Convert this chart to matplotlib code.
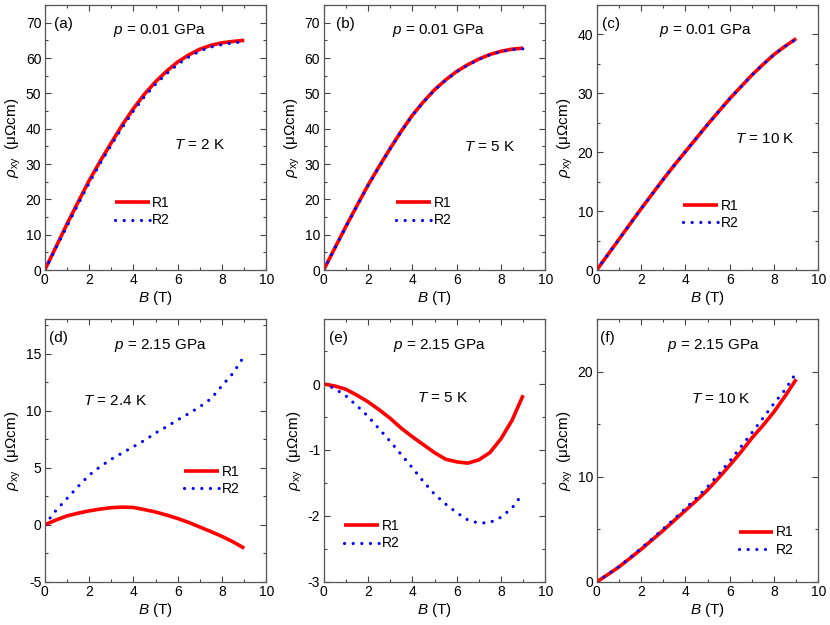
import numpy as np
import matplotlib
matplotlib.use('Agg')
import matplotlib.pyplot as plt
from matplotlib.ticker import MultipleLocator

plt.rcParams['font.family'] = ['Liberation Sans', 'DejaVu Sans']
plt.rcParams['mathtext.fontset'] = 'custom'
plt.rcParams['mathtext.rm'] = 'Liberation Sans'
plt.rcParams['mathtext.it'] = 'Liberation Sans:italic'
plt.rcParams['axes.unicode_minus'] = False
plt.rcParams['font.size'] = 11

# Field values (T)
B = [0, 0.5, 1, 1.5, 2, 2.5, 3, 3.5, 4, 4.5, 5, 5.5, 6, 6.5, 7, 7.5, 8, 8.5, 9]
B_short = [0, 0.5, 1, 1.5, 2, 2.5, 3, 3.5, 4, 4.5, 5, 5.5, 6, 6.5, 7, 7.5, 8, 8.5, 8.9]

# (a) p = 0.01 GPa, T = 2 K
a_r1 = [0, 6.5, 13, 19.2, 25.3, 30.8, 36, 41.1, 45.7, 49.8, 53.3, 56.3, 58.9, 60.9, 62.5, 63.6, 64.3, 64.7, 65.0]
a_r2 = [0, 6.2, 12.4, 18.6, 24.6, 30.2, 35.4, 40.4, 45.0, 49.1, 52.6, 55.6, 58.2, 60.3, 62.0, 63.1, 63.8, 64.3, 64.6]

# (b) p = 0.01 GPa, T = 5 K
b_r1 = [0, 6.2, 12.3, 18.2, 24, 29.3, 34.4, 39.3, 43.8, 47.6, 51, 53.8, 56.2, 58.1, 59.7, 61, 61.9, 62.5, 62.8]
b_r2 = [0, 6.1, 12.2, 18.1, 23.9, 29.2, 34.3, 39.2, 43.7, 47.5, 50.9, 53.7, 56.1, 58.0, 59.6, 60.9, 61.8, 62.4, 62.6]

# (c) p = 0.01 GPa, T = 10 K
c_r1 = [0, 2.6, 5.2, 7.8, 10.4, 12.9, 15.4, 17.8, 20.1, 22.4, 24.7, 26.9, 29.1, 31.1, 33.1, 34.9, 36.6, 38.0, 39.3]
c_r2 = [0, 2.6, 5.2, 7.8, 10.4, 12.9, 15.4, 17.8, 20.1, 22.4, 24.7, 26.9, 29.1, 31.1, 33.1, 34.9, 36.6, 38.0, 39.2]

# (d) p = 2.15 GPa, T = 2.4 K
d_r1 = [0, 0.42, 0.78, 1.02, 1.22, 1.38, 1.5, 1.55, 1.52, 1.33, 1.12, 0.85, 0.55, 0.2, -0.2, -0.6, -1.02, -1.5, -2.05]
d_r2 = [0, 1.25, 2.3, 3.35, 4.35, 5.1, 5.75, 6.3, 6.85, 7.4, 8.05, 8.6, 9.2, 9.75, 10.35, 11.05, 12.2, 13.3, 14.5]

# (e) p = 2.15 GPa, T = 5 K
e_r1 = [0, -0.03, -0.08, -0.17, -0.27, -0.39, -0.52, -0.67, -0.80, -0.92, -1.04, -1.14, -1.18, -1.20, -1.15, -1.04, -0.83, -0.55, -0.17]
e_r2 = [0, -0.07, -0.18, -0.33, -0.49, -0.68, -0.87, -1.07, -1.27, -1.48, -1.67, -1.82, -1.95, -2.06, -2.11, -2.1, -2.02, -1.88, -1.7]

# (f) p = 2.15 GPa, T = 10 K
f_r1 = [0, 0.7, 1.42, 2.25, 3.1, 4.0, 4.9, 5.85, 6.8, 7.75, 8.75, 9.9, 11.1, 12.35, 13.7, 14.9, 16.2, 17.7, 19.3]
f_r2 = [0, 0.72, 1.45, 2.3, 3.2, 4.1, 5.05, 6.0, 7.0, 8.0, 9.05, 10.25, 11.5, 12.85, 14.2, 15.6, 17.0, 18.3, 19.6]

panel_tags = ['(a)', '(b)', '(c)', '(d)', '(e)', '(f)']
pressures = ['0.01', '0.01', '0.01', '2.15', '2.15', '2.15']
temps = ['2', '5', '10', '2.4', '5', '10']

# Panel settings: data, limits, tick steps and text positions
panels = [
    dict(x1=B, y1=a_r1, x2=B, y2=a_r2, ylim=(0, 75), major=10, minor=5,
         tag_x=0.042, p_pos=(0.515, 0.905), t_pos=(0.70, 0.47), leg=(0.316, 0.22)),
    dict(x1=B, y1=b_r1, x2=B, y2=b_r2, ylim=(0, 75), major=10, minor=5,
         tag_x=0.056, p_pos=(0.516, 0.905), t_pos=(0.75, 0.465), leg=(0.327, 0.22)),
    dict(x1=B, y1=c_r1, x2=B, y2=c_r2, ylim=(0, 45), major=10, minor=5,
         tag_x=0.025, p_pos=(0.49, 0.905), t_pos=(0.76, 0.494), leg=(0.39, 0.21)),
    dict(x1=B, y1=d_r1, x2=B_short, y2=d_r2, ylim=(-5, 18), major=5, minor=2.5,
         tag_x=0.02, p_pos=(0.52, 0.90), t_pos=(0.315, 0.69), leg=(0.63, 0.387)),
    dict(x1=B, y1=e_r1, x2=B_short, y2=e_r2, ylim=(-3, 0.98), major=1, minor=0.5,
         tag_x=0.023, p_pos=(0.52, 0.90), t_pos=(0.537, 0.70), leg=(0.093, 0.18)),
    dict(x1=B, y1=f_r1, x2=B_short, y2=f_r2, ylim=(0, 25), major=10, minor=5,
         tag_x=0.015, p_pos=(0.525, 0.90), t_pos=(0.56, 0.695), leg=(0.64, 0.155)),
]

fig = plt.figure(figsize=(8.3, 6.25), dpi=100)

lefts = [0.054, 0.390, 0.719]
width = 0.267
bottoms = [0.568, 0.069]
heights = [0.424, 0.420]

for i, pan in enumerate(panels):
    row, col = divmod(i, 3)
    ax = fig.add_axes([lefts[col], bottoms[row], width, heights[row]])

    ax.plot(pan['x1'], pan['y1'], color='#ff0000', lw=2.6, label='R1', solid_capstyle='butt')
    ax.plot(pan['x2'], pan['y2'], color='#0000ff', lw=2.3, label='R2',
            linestyle=(0, (0.01, 2.7)), dash_capstyle='round')

    ax.set_xlim(0, 10)
    ax.set_ylim(*pan['ylim'])
    ax.xaxis.set_major_locator(MultipleLocator(2))
    ax.xaxis.set_minor_locator(MultipleLocator(1))
    ax.set_yticks(np.arange(pan['ylim'][0], pan['ylim'][1] + 0.01, pan['major']))
    ax.yaxis.set_minor_locator(MultipleLocator(pan['minor']))
    ax.tick_params(which='both', direction='in', top=True, right=True, pad=2.5, labelsize=10)
    ax.tick_params(which='major', length=4, width=0.8, color='#444444')
    ax.tick_params(which='minor', length=2.5, width=0.8, color='#444444')
    for s in ax.spines.values():
        s.set_color('#555555')
        s.set_linewidth(0.9)

    ax.set_xlabel(r'$B$ (T)', labelpad=1)
    ax.set_ylabel(r'$\rho_{\rm xy}$  (μΩcm)', labelpad=2)

    ax.text(pan['tag_x'], 0.93, panel_tags[i], transform=ax.transAxes, ha='left', va='center')
    ax.text(*pan['p_pos'], r'$p$ = %s GPa' % pressures[i], transform=ax.transAxes,
            ha='center', va='center')
    ax.text(*pan['t_pos'], r'$T$ = %s K' % temps[i], transform=ax.transAxes,
            ha='center', va='center')

    ax.legend(loc='center left', bbox_to_anchor=pan['leg'], frameon=False,
              borderaxespad=0, borderpad=0, handlelength=2.5, handletextpad=0.2,
              labelspacing=0.25, fontsize=10)

fig.savefig('out.png', dpi=100)
